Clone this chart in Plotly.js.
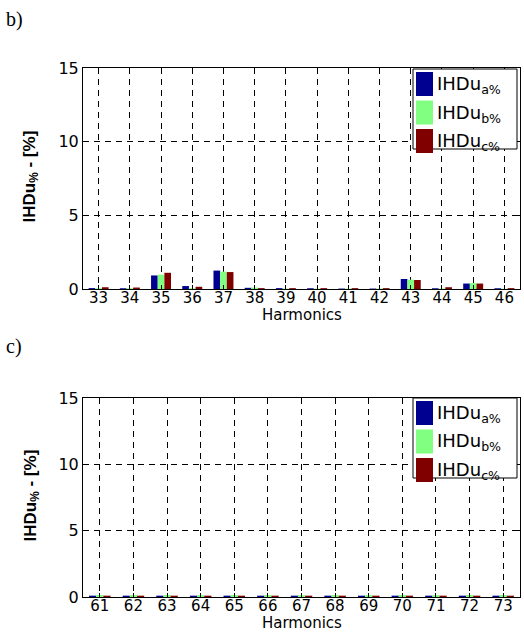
<!DOCTYPE html>
<html>
<head>
<meta charset="utf-8">
<script src="https://cdn.plot.ly/plotly-3.0.1.min.js"></script>
<style>
html,body{margin:0;padding:0;background:#fff;}
#chart{width:524px;height:633px;}
</style>
</head>
<body>
<div id="chart"></div>
<script>
// Panel b) harmonics 33..46
const harmB = [33,34,35,36,37,38,39,40,41,42,43,44,45,46];
const ihdA_b = [0.06,0.05,0.92,0.20,1.25,0.08,0.06,0.05,0.03,0.03,0.68,0.05,0.37,0.05];
const ihdB_b = [0.05,0.05,0.97,0.05,1.18,0.10,0.03,0.03,0.03,0.03,0.63,0.03,0.40,0.02];
const ihdC_b = [0.12,0.10,1.10,0.15,1.15,0.06,0.06,0.06,0.06,0.06,0.61,0.12,0.37,0.06];

// Panel c) harmonics 61..73
const harmC = [61,62,63,64,65,66,67,68,69,70,71,72,73];
const ihdA_c = [0.10,0.10,0.10,0.10,0.10,0.10,0.10,0.10,0.10,0.10,0.10,0.10,0.10];
const ihdB_c = [0.15,0.14,0.15,0.14,0.15,0.15,0.14,0.15,0.14,0.15,0.14,0.15,0.15];
const ihdC_c = [0.10,0.10,0.10,0.10,0.10,0.10,0.10,0.10,0.10,0.10,0.10,0.10,0.10];

const seriesMain = ['IHDu','IHDu','IHDu'];
const seriesSub = ['a%','b%','c%'];
const colors = ['#000090','#80FF80','#800000'];

const W = 524, H = 633;
const px = v => v / W;
const py = v => 1 - v / H;
const SANS = 'DejaVu Sans, Verdana, sans-serif';

function bar(x, y, i, xa, ya) {
  return {type:'bar', x:x, y:y, name:seriesMain[i] + seriesSub[i], xaxis:xa, yaxis:ya,
          marker:{color:colors[i], line:{width:0}}, showlegend:false};
}

const data = [
  bar(harmB, ihdA_b, 0, 'x', 'y'),
  bar(harmB, ihdB_b, 1, 'x', 'y'),
  bar(harmB, ihdC_b, 2, 'x', 'y'),
  bar(harmC, ihdA_c, 0, 'x2', 'y2'),
  bar(harmC, ihdB_c, 1, 'x2', 'y2'),
  bar(harmC, ihdC_c, 2, 'x2', 'y2')
];

const tickFont = {family:SANS, size:16, color:'#000'};
const xTickFont = {family:SANS, size:15, color:'#000'};
const DASH = '6px,5px';

function xaxis(dom, anchor, vals) {
  return {domain:dom, anchor:anchor, range:[vals[0]-0.5, vals[vals.length-1]+0.5],
    tickmode:'array', tickvals:vals, ticktext:vals.map(String),
    showline:true, mirror:'allticks', linecolor:'#000', linewidth:1,
    ticks:'inside', ticklen:4, tickcolor:'#000', ticklabelstandoff:-5,
    showgrid:true, gridcolor:'#000', griddash:DASH, gridwidth:1,
    zeroline:false, tickfont:xTickFont};
}
function yaxis(dom, anchor) {
  return {domain:dom, anchor:anchor, range:[0,15], tickmode:'array', tickvals:[0,5,10,15],
    showline:true, mirror:'allticks', linecolor:'#000', linewidth:1,
    ticks:'inside', ticklen:4, tickcolor:'#000',
    showgrid:true, gridcolor:'#000', griddash:DASH, gridwidth:1,
    zeroline:false, tickfont:tickFont};
}

const shapes = [], annotations = [];
function legend(top) {
  shapes.push({type:'rect', xref:'paper', yref:'paper',
    x0:px(413), x1:px(517), y0:py(top+80), y1:py(top),
    line:{color:'#000', width:1}, fillcolor:'#fff', layer:'above'});
  for (let i = 0; i < 3; i++) {
    const y0 = top + 3 + i*28.5;
    shapes.push({type:'rect', xref:'paper', yref:'paper',
      x0:px(416), x1:px(433), y0:py(y0+24), y1:py(y0),
      line:{width:0}, fillcolor:colors[i], layer:'above'});
    annotations.push({xref:'paper', yref:'paper', x:px(435), y:py(y0+13),
      xanchor:'left', yanchor:'middle', showarrow:false,
      text:seriesMain[i] + '<sub>' + seriesSub[i] + '</sub>',
      font:{family:SANS, size:18, color:'#000'}});
  }
}
legend(69);
legend(398);

function axisTitles(plotTop, plotBottom, xTitleY) {
  annotations.push({xref:'paper', yref:'paper', x:px(301.5), y:py(xTitleY),
    xanchor:'center', yanchor:'middle', showarrow:false, text:'Harmonics',
    font:{family:SANS, size:15, color:'#000'}});
  annotations.push({xref:'paper', yref:'paper', x:px(31), y:py((plotTop+plotBottom)/2 - 2),
    xanchor:'center', yanchor:'middle', showarrow:false, textangle:-90,
    text:'<b>IHDu<sub>%</sub> - [%]</b>',
    font:{family:'Liberation Sans, Arial, sans-serif', size:17, color:'#000'}});
}
axisTitles(68, 289, 315);
axisTitles(398, 597, 623);

annotations.push({xref:'paper', yref:'paper', x:px(4), y:py(19), xanchor:'left', yanchor:'middle',
  showarrow:false, text:'b)', font:{family:'Liberation Serif, Times New Roman, serif', size:20, color:'#000'}});
annotations.push({xref:'paper', yref:'paper', x:px(4), y:py(346), xanchor:'left', yanchor:'middle',
  showarrow:false, text:'c)', font:{family:'Liberation Serif, Times New Roman, serif', size:20, color:'#000'}});

const layout = {
  width:W, height:H, margin:{l:0,r:0,t:0,b:0},
  paper_bgcolor:'#fff', plot_bgcolor:'#fff',
  barmode:'group', bargap:0.36, bargroupgap:0,
  showlegend:false,
  xaxis: xaxis([px(83), px(520)], 'y', harmB),
  yaxis: yaxis([py(289), py(68)], 'x'),
  xaxis2: xaxis([px(83), px(520)], 'y2', harmC),
  yaxis2: yaxis([py(597), py(398)], 'x2'),
  shapes:shapes, annotations:annotations
};

Plotly.newPlot('chart', data, layout, {staticPlot:true, displayModeBar:false});
</script>
</body>
</html>
